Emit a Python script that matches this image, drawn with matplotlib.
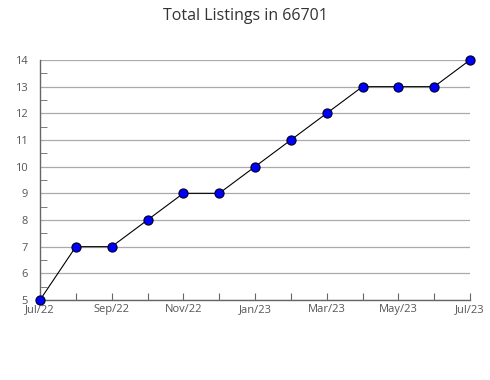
import matplotlib
matplotlib.use("Agg")
import matplotlib.pyplot as plt
from matplotlib.ticker import MultipleLocator

months = ["Jul/22", "Aug/22", "Sep/22", "Oct/22", "Nov/22", "Dec/22", "Jan/23",
          "Feb/23", "Mar/23", "Apr/23", "May/23", "Jun/23", "Jul/23"]
listings = [5, 7, 7, 8, 9, 9, 10, 11, 12, 13, 13, 13, 14]

plt.rcParams['font.family'] = ['Open Sans', 'DejaVu Sans']

fig = plt.figure(figsize=(4.9, 3.8), dpi=100)
ax = fig.add_axes([40 / 490, 80 / 380, 430 / 490, 240 / 380])

x = list(range(len(months)))
ax.plot(x, listings, color="black", linewidth=0.8, zorder=3, clip_on=False)
ax.plot(x, listings, "o", markersize=6.5, markerfacecolor="#0000ff",
        markeredgecolor="#000033", markeredgewidth=0.9, zorder=4, clip_on=False)

ax.set_xlim(0, len(months) - 1)
ax.set_ylim(5, 14)
ax.set_xticks(x)
ax.set_xticklabels([m if i % 2 == 0 else "" for i, m in enumerate(months)])
ax.yaxis.set_major_locator(MultipleLocator(1))
ax.yaxis.set_minor_locator(MultipleLocator(0.5))

ax.grid(axis="y", which="major", color="#aaaaaa", linewidth=0.9)
ax.set_axisbelow(True)

for s in ["top", "right"]:
    ax.spines[s].set_visible(False)
for s in ["left", "bottom"]:
    ax.spines[s].set_color("#666666")
    ax.spines[s].set_linewidth(1.0)

ax.tick_params(axis="x", direction="in", length=5, color="#666666",
               labelsize=8, labelcolor="#555555", pad=3)
ax.tick_params(axis="y", which="major", length=0, labelsize=8,
               labelcolor="#555555", pad=9)
ax.tick_params(axis="y", which="minor", direction="in", length=5, color="#666666")

fig.suptitle("Total Listings in 66701", y=0.98, fontsize=11.5, color="#333333")

fig.savefig("out.png", dpi=100)
